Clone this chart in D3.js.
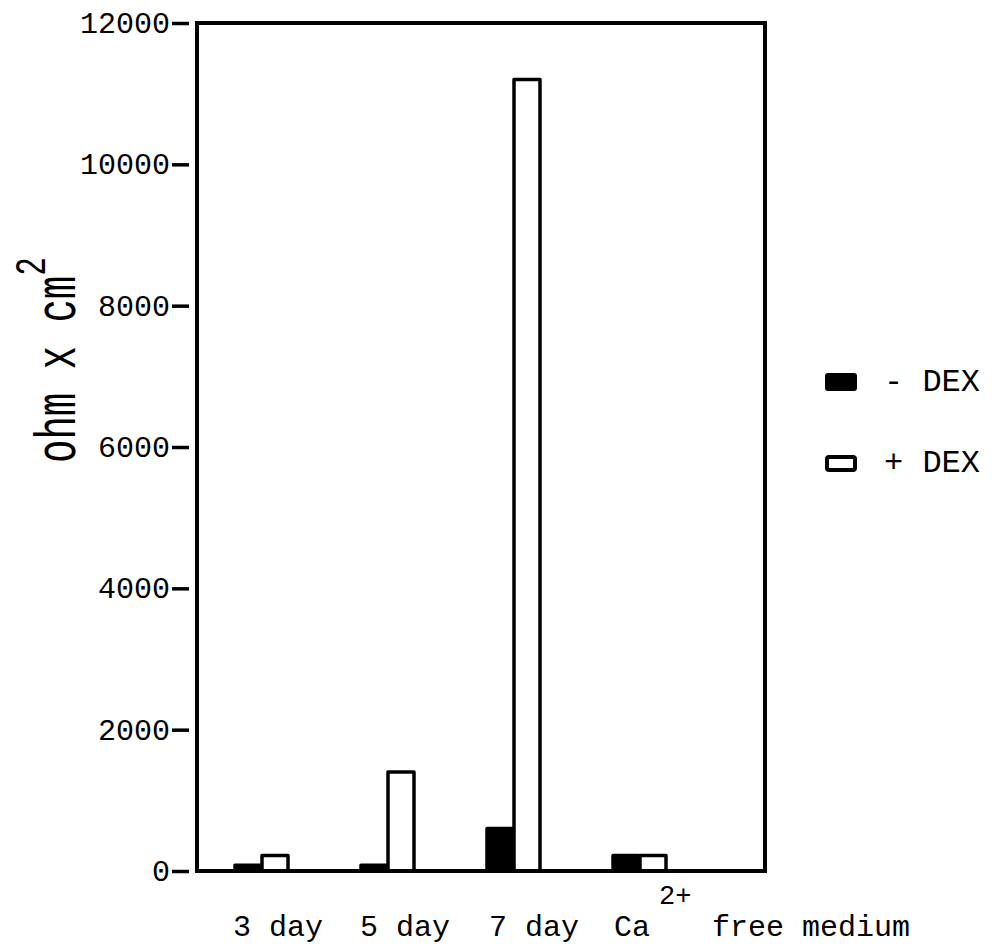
<!DOCTYPE html>
<html>
<head>
<meta charset="utf-8">
<script src="https://cdn.jsdelivr.net/npm/d3@7"></script>
<style>
  html, body { margin: 0; padding: 0; background: #fff; }
  svg { display: block; }
  text { font-family: "Liberation Mono", "DejaVu Sans Mono", monospace; fill: #000; }
</style>
</head>
<body>
<script>
// ---- data ----
const categories = ["3 day", "5 day", "7 day", "Ca"];
const minusDex = [80, 80, 600, 220];
const plusDex = [220, 1400, 11200, 220];
const yTicks = [0, 2000, 4000, 6000, 8000, 10000, 12000];
const seriesNames = ["- DEX", "+ DEX"];
const caSuperscript = "2+";
const caSuffix = "free medium";
const yTitle = "ohm x cm";
const yTitleSup = "2";

// ---- layout ----
const W = 996, H = 949;
const frame = { left: 197, right: 765, top: 23, bottom: 871 };
const labelX = [233, 360, 489, 614];
const suffixX = 712;

const svg = d3.select("body").append("svg").attr("width", W).attr("height", H);

const x = d3.scaleBand().domain(categories).range([199, 703]);
const y = d3.scaleLinear().domain([0, 12000]).range([frame.bottom, frame.top]);

const barW = 26;
const sw = 3.5;

// bars: -DEX (black) then +DEX (white)
svg.append("g").selectAll("rect").data(categories).join("rect")
  .attr("x", d => x(d) + x.bandwidth() / 2 - barW - 1)
  .attr("y", (d, i) => y(minusDex[i]))
  .attr("width", barW)
  .attr("height", (d, i) => y(0) - y(minusDex[i]))
  .attr("fill", "#000").attr("stroke", "#000").attr("stroke-width", sw)
  .attr("stroke-linejoin", "round");

svg.append("g").selectAll("rect").data(categories).join("rect")
  .attr("x", d => x(d) + x.bandwidth() / 2)
  .attr("y", (d, i) => y(plusDex[i]))
  .attr("width", barW)
  .attr("height", (d, i) => y(0) - y(plusDex[i]))
  .attr("fill", "#fff").attr("stroke", "#000").attr("stroke-width", sw)
  .attr("stroke-linejoin", "round");

// frame
svg.append("rect")
  .attr("x", frame.left).attr("y", frame.top)
  .attr("width", frame.right - frame.left).attr("height", frame.bottom - frame.top)
  .attr("fill", "none").attr("stroke", "#000").attr("stroke-width", 4);

// y axis ticks
const yAxis = d3.axisLeft(y).tickValues(yTicks).tickSize(17).tickPadding(2).tickFormat(d3.format("d"));
const gy = svg.append("g").attr("transform", `translate(189,0)`).call(yAxis);
gy.select(".domain").remove();
gy.selectAll(".tick line").attr("stroke", "#000").attr("stroke-width", sw);
gy.selectAll(".tick text")
  .style("font-family", '"Liberation Mono", monospace')
  .attr("font-size", 30).attr("fill", "#000");

// x labels
const xl = svg.append("g");
categories.forEach((c, i) => {
  xl.append("text").attr("x", labelX[i]).attr("y", 936)
    .attr("font-size", 30).text(c);
});
xl.append("text").attr("x", 659).attr("y", 904).attr("font-size", 27).text(caSuperscript);
xl.append("text").attr("x", suffixX).attr("y", 936).attr("font-size", 30).text(caSuffix);

// y title
const yt = svg.append("text")
  .attr("transform", "translate(75,463) rotate(-90) scale(1,1.45)")
  .attr("font-size", 39);
yt.append("tspan").text(yTitle);
yt.append("tspan").attr("dy", -21).attr("font-size", 31).text(yTitleSup);

// legend
const leg = svg.append("g");
leg.append("rect").attr("x", 826).attr("y", 374).attr("width", 30).attr("height", 16)
  .attr("rx", 2).attr("fill", "#000").attr("stroke", "#000").attr("stroke-width", 2);
leg.append("rect").attr("x", 827).attr("y", 457).attr("width", 28).attr("height", 13)
  .attr("rx", 2).attr("fill", "#fff").attr("stroke", "#000").attr("stroke-width", 4);
leg.append("text").attr("x", 884).attr("y", 391).attr("font-size", 32).text(seriesNames[0]);
leg.append("text").attr("x", 884).attr("y", 472).attr("font-size", 32).text(seriesNames[1]);
</script>
</body>
</html>
